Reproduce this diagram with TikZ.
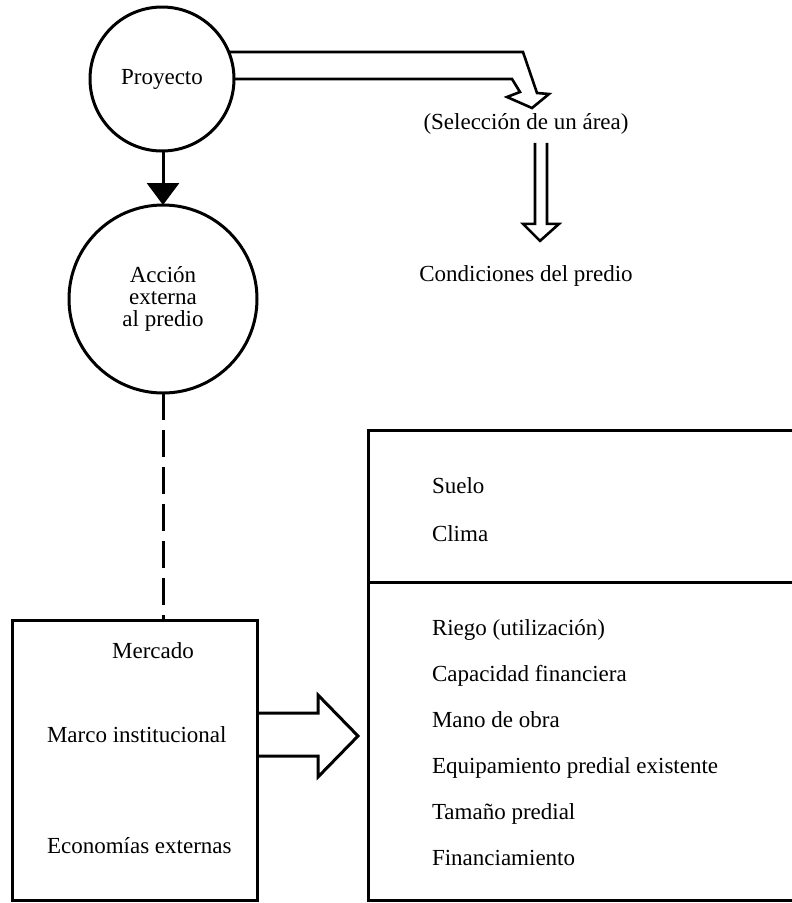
\documentclass[tikz,border=0pt]{standalone}
\usepackage{fontspec}
\setmainfont{Liberation Serif}
\usetikzlibrary{arrows.meta,calc}
\begin{document}
\begin{tikzpicture}[x=1pt,y=-1pt,
  every node/.style={font=\fontsize{23}{22}\selectfont, inner sep=0pt, outer sep=0pt},
  ring/.style={draw, circle, line width=3pt, inner sep=0pt},
  frame/.style={draw, line width=3pt},
  item/.style={anchor=base west},
  label/.style={anchor=base},
  outline/.style={draw, line width=2.6pt, line join=miter},
  solidarrow/.style={line width=3pt, -{Triangle[width=32pt,length=22pt]}},
  linkdash/.style={line width=3pt, dash pattern=on 27pt off 10pt},
]
\useasboundingbox (0,0) rectangle (792,903);
\fill[white] (0,0) rectangle (792,903);

% circles
\node[ring, minimum size=144pt] (proy) at (162,79) {Proyecto};
\node[ring, minimum size=188pt, align=center] (acc) at (163,299) {Acción\\externa\\al predio};

% texts to the right of the circles
\node[label] (sel) at (526,129) {(Selección de un área)};
\node[label] (cond) at (526,281) {Condiciones del predio};

% left box
\node[frame, minimum width=245pt, minimum height=280pt] (merc) at (134.5,760) {};
\node[label] (mer) at (153,658) {Mercado};
\node[item] (marco) at (47,742) {Marco institucional};
\node[item] (econ) at (47,853) {Economías externas};

% right box (open on the right)
\draw[frame] (796,430) -- (368,430) -- (368,900) -- (796,900);
\draw[frame] (368,582) -- (796,582);

\node[item] (suelo) at (432,493) {Suelo};
\node[item] (clima) at (432,541) {Clima};
\node[item] (riego) at (432,635) {Riego (utilización)};
\node[item] (capf) at (432,681) {Capacidad financiera};
\node[item] (mano) at (432,727) {Mano de obra};
\node[item] (equip) at (432,773) {Equipamiento predial existente};
\node[item] (tam) at (432,819) {Tamaño predial};
\node[item] (fin) at (432,865) {Financiamiento};

% connectors
\draw[solidarrow] (proy.south -| acc.north) -- (acc.north);
\draw[linkdash] (acc.south) -- (acc.south |- merc.north);

% hollow bent arrow from Proyecto towards the area selection
\draw[outline] (proy.22) -- (523,52) -- (537,93) -- (549,94) -- (532,108)
  -- (507,97) -- (520,92) -- (512,79) -- (proy.east);

% hollow double arrow down to the site conditions
\coordinate (dv) at ($(sel.south)+(15,9)$);
\draw[outline] ($(dv)+(-6,0)$) -- ++(0,81) -- ++(-12,0) -- ++(17,17)
  -- ++(19,-17) -- ++(-12,0) -- ++(0,-81);

% broad hollow arrow between the two boxes
\draw[outline, line width=3pt] ($(merc.east)+(0,-47)$) -- ++(61,0) -- ++(0,-18)
  -- ++(40,41) -- ++(-40,41) -- ++(0,-21) -- ++(-61,0);
\end{tikzpicture}
\end{document}
